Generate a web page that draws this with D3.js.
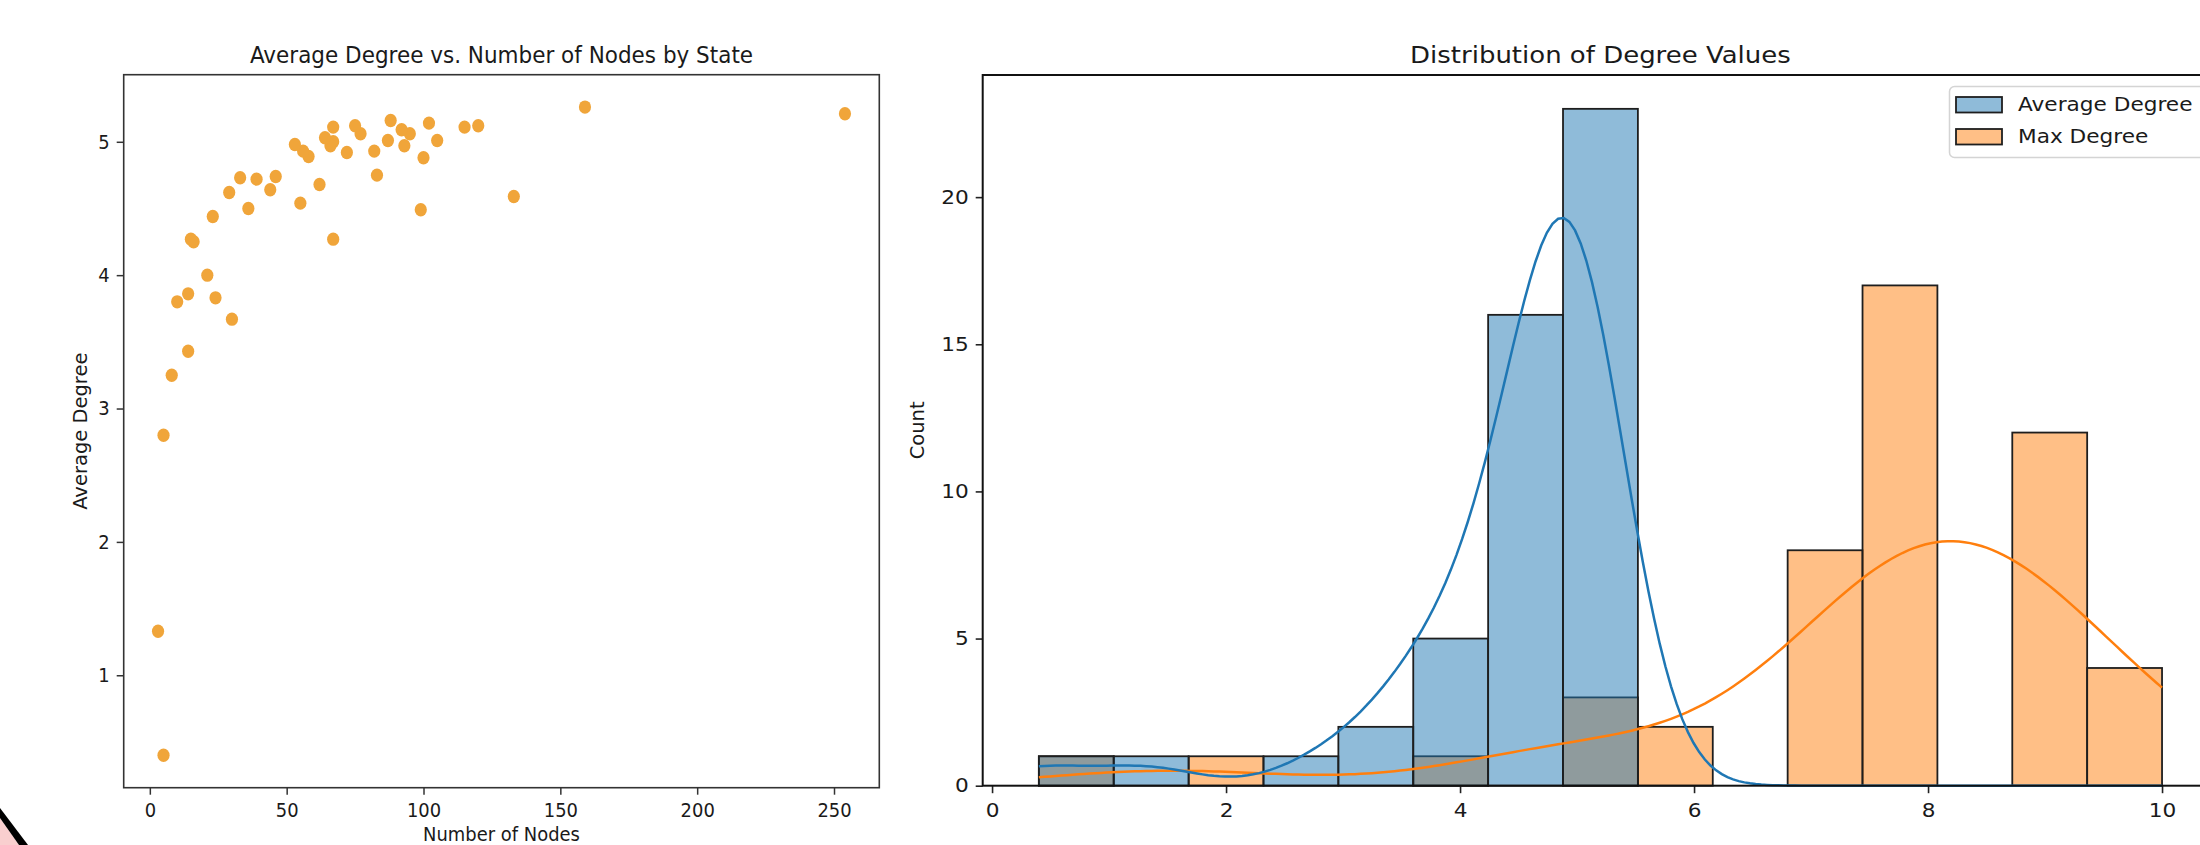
<!DOCTYPE html>
<html>
<head>
<meta charset="utf-8">
<script src="https://cdn.jsdelivr.net/npm/d3@7"></script>
<style>
  html, body { margin: 0; padding: 0; background: #ffffff; }
  svg { display: block; font-family: "DejaVu Sans", sans-serif; }
</style>
</head>
<body>
<svg id="chart" width="2200" height="845"></svg>
<script>
// ---------------- DATA ----------------
// Left: scatter of states (number of nodes vs average degree)
const nodeCounts = [254,159,133,120,115,105,102,100,99,95,93,92,88,87,83,82,77,75,72,67,67,67,66,64,62,58,56,55,53,46,44,39,36,33,30,29,24,23,21,16,15,14,14,10,8,5,3,5];
const avgDegrees = [5.21,5.26,4.59,5.12,5.11,5.01,5.14,4.88,4.49,5.06,4.97,5.09,5.16,5.01,4.75,4.93,5.06,5.12,4.92,5.11,4.27,5.00,4.97,5.03,4.68,4.89,4.93,4.54,4.98,4.74,4.64,4.72,4.50,4.73,3.67,4.62,3.83,4.44,4.00,4.25,4.27,3.86,3.43,3.80,3.25,2.80,1.33,0.40];
const scatterXTicks = [0, 50, 100, 150, 200, 250];
const scatterYTicks = [1, 2, 3, 4, 5];

// Right: histogram of degree values (common bins)
const binEdges = [0.4,1.04,1.68,2.32,2.96,3.6,4.24,4.88,5.52,6.16,6.8,7.44,8.08,8.72,9.36,10];
const avgDegreeCounts = [1,1,0,1,2,5,16,23,0,0,0,0,0,0,0];
const maxDegreeCounts = [1,0,1,0,0,1,0,3,2,0,8,17,0,12,4];
// Max degree observations (value and how many states have it)
const maxDegreeValues = [1,2,4,5,6,7,8,9,10];
const maxDegreeFreq   = [1,1,1,3,2,8,17,12,4];
const histXTicks = [0, 2, 4, 6, 8, 10];
const histYTicks = [0, 5, 10, 15, 20];
const seriesNames = ["Average Degree", "Max Degree"];

// ---------------- STYLE ----------------
const dotColor = "#f0a53a";
const blueLine = "#1f77b4", orangeLine = "#ff7f0e";
const blueFill = "rgba(31,119,180,0.5)", orangeFill = "rgba(255,127,14,0.5)";
const textColor = "#1a1a1a";
const baseFont = 19.5, titleFont = 23.4;
const leftSX = 0.92, rightSX = 1.11;

const svg = d3.select("#chart");

function squeeze(sel, sx) {
  sel.each(function () {
    const t = d3.select(this);
    const x = +t.attr("x") || 0, y = +t.attr("y") || 0;
    t.attr("transform", `translate(${x},${y}) scale(${sx},1) translate(${-x},${-y})`);
  });
}
function pad(ext, f) { const r = ext[1] - ext[0]; return [ext[0] - f * r, ext[1] + f * r]; }

// ================= LEFT: SCATTER =================
const L = { x0: 123.7, x1: 879.3, y0: 74.7, y1: 787.7 };
const xL = d3.scaleLinear().domain(pad(d3.extent(nodeCounts), 0.05)).range([L.x0, L.x1]);
const yL = d3.scaleLinear().domain(pad(d3.extent(avgDegrees), 0.05)).range([L.y1, L.y0]);

const gL = svg.append("g");
gL.selectAll("ellipse.dot").data(nodeCounts.map((n, i) => [n, avgDegrees[i]]))
  .join("ellipse").attr("class", "dot")
  .attr("cx", d => xL(d[0])).attr("cy", d => yL(d[1]))
  .attr("rx", 6.1).attr("ry", 6.7).attr("fill", dotColor);

const axLB = gL.append("g").attr("transform", `translate(0,${L.y1})`)
  .call(d3.axisBottom(xL).tickValues(scatterXTicks).tickSize(7).tickPadding(8.5).tickFormat(d3.format("d")));
const axLL = gL.append("g").attr("transform", `translate(${L.x0},0)`)
  .call(d3.axisLeft(yL).tickValues(scatterYTicks).tickSize(7).tickPadding(7).tickFormat(d3.format("d")));
[axLB, axLL].forEach(a => {
  a.select(".domain").remove();
  a.selectAll("line").attr("stroke", "#333").attr("stroke-width", 1.5);
  a.selectAll("text").attr("font-size", baseFont).attr("fill", textColor).attr("font-family", "DejaVu Sans");
  squeeze(a.selectAll("text"), leftSX);
});
gL.append("rect").attr("x", L.x0).attr("y", L.y0).attr("width", L.x1 - L.x0).attr("height", L.y1 - L.y0)
  .attr("fill", "none").attr("stroke", "#333").attr("stroke-width", 1.6);

const tL = gL.append("text").attr("x", (L.x0 + L.x1) / 2).attr("y", 63.5).attr("text-anchor", "middle")
  .attr("font-size", titleFont).attr("fill", textColor).text("Average Degree vs. Number of Nodes by State");
squeeze(tL, leftSX);
const xlL = gL.append("text").attr("x", (L.x0 + L.x1) / 2).attr("y", 841).attr("text-anchor", "middle")
  .attr("font-size", baseFont).attr("fill", textColor).text("Number of Nodes");
squeeze(xlL, leftSX);
gL.append("text").attr("transform", `translate(87,${(L.y0 + L.y1) / 2}) rotate(-90)`).attr("text-anchor", "middle")
  .attr("font-size", baseFont).attr("fill", textColor).text("Average Degree");

// decorative corner mark seen in the reference
svg.append("path").attr("d", "M0,818 L0,845 L19,845 Z").attr("fill", "#f9cfcf");
svg.append("path").attr("d", "M0,808 L0,818 L19,845 L28,845 Z").attr("fill", "#000");

// ================= RIGHT: HISTOGRAM =================
const R = { x0: 982.7, x1: 2218.2, y0: 75, y1: 785.7 };
const xR = d3.scaleLinear().domain(pad(d3.extent(binEdges), 0.05)).range([R.x0, R.x1]);
const yR = d3.scaleLinear().domain([0, d3.max(avgDegreeCounts.concat(maxDegreeCounts)) * 1.05]).range([R.y1, R.y0]);

const gR = svg.append("g");
function drawBars(counts, fill) {
  gR.append("g").selectAll("rect").data(counts.map((c, i) => ({ c, a: binEdges[i], b: binEdges[i + 1] })).filter(d => d.c > 0))
    .join("rect")
    .attr("x", d => xR(d.a)).attr("width", d => xR(d.b) - xR(d.a))
    .attr("y", d => yR(d.c)).attr("height", d => yR(0) - yR(d.c))
    .attr("fill", fill).attr("stroke", "#1e1e1e").attr("stroke-width", 1.8);
}
drawBars(maxDegreeCounts, orangeFill);
drawBars(avgDegreeCounts, blueFill);

// Gaussian KDE (Scott bandwidth) evaluated on the bin range, scaled to the histogram's counts
function kdeCurve(values, total) {
  const n = values.length;
  const sd = d3.deviation(values);
  const bw = sd * Math.pow(n, -0.2);
  const binW = binEdges[1] - binEdges[0];
  const lo = binEdges[0], hi = binEdges[binEdges.length - 1];
  const pts = [];
  for (let k = 0; k < 200; k++) {
    const x = lo + (hi - lo) * k / 199;
    let s = 0;
    for (const v of values) { const z = (x - v) / bw; s += Math.exp(-0.5 * z * z); }
    const dens = s / (n * bw * Math.sqrt(2 * Math.PI));
    pts.push([x, dens * total * binW]);
  }
  return pts;
}
const maxDegreeObs = maxDegreeValues.flatMap((v, i) => d3.range(maxDegreeFreq[i]).map(() => v));
const line = d3.line().x(d => xR(d[0])).y(d => yR(d[1])).curve(d3.curveLinear);
gR.append("path").attr("d", line(kdeCurve(maxDegreeObs, d3.sum(maxDegreeCounts))))
  .attr("fill", "none").attr("stroke", orangeLine).attr("stroke-width", 2.5);
gR.append("path").attr("d", line(kdeCurve(avgDegrees, d3.sum(avgDegreeCounts))))
  .attr("fill", "none").attr("stroke", blueLine).attr("stroke-width", 2.5);

const axRB = gR.append("g").attr("transform", `translate(0,${R.y1})`)
  .call(d3.axisBottom(xR).tickValues(histXTicks).tickSize(7.5).tickPadding(10).tickFormat(d3.format("d")));
const axRL = gR.append("g").attr("transform", `translate(${R.x0},0)`)
  .call(d3.axisLeft(yR).tickValues(histYTicks).tickSize(7).tickPadding(7).tickFormat(d3.format("d")));
[axRB, axRL].forEach(a => {
  a.select(".domain").remove();
  a.selectAll("line").attr("stroke", "#222").attr("stroke-width", 1.6);
  a.selectAll("text").attr("font-size", baseFont).attr("fill", textColor).attr("font-family", "DejaVu Sans");
  squeeze(a.selectAll("text"), rightSX);
});
gR.append("rect").attr("x", R.x0).attr("y", R.y0).attr("width", R.x1 - R.x0).attr("height", R.y1 - R.y0)
  .attr("fill", "none").attr("stroke", "#111").attr("stroke-width", 2);

const tR = gR.append("text").attr("x", (R.x0 + R.x1) / 2).attr("y", 63).attr("text-anchor", "middle")
  .attr("font-size", titleFont).attr("fill", textColor).text("Distribution of Degree Values");
squeeze(tR, rightSX);
gR.append("text").attr("transform", `translate(924,${(R.y0 + R.y1) / 2}) rotate(-90)`).attr("text-anchor", "middle")
  .attr("font-size", baseFont).attr("fill", textColor).text("Count");

// legend
const lg = gR.append("g");
lg.append("rect").attr("x", 1949.5).attr("y", 86.5).attr("width", 290).attr("height", 71).attr("rx", 5)
  .attr("fill", "rgba(255,255,255,0.85)").attr("stroke", "#d4d4d4").attr("stroke-width", 1.5);
[blueFill, orangeFill].forEach((f, i) => {
  const y = 97 + i * 32;
  lg.append("rect").attr("x", 1956).attr("y", y).attr("width", 46).attr("height", 15.5)
    .attr("fill", f).attr("stroke", "#1e1e1e").attr("stroke-width", 1.8);
  const t = lg.append("text").attr("x", 2018).attr("y", y + 14).attr("font-size", baseFont)
    .attr("fill", textColor).text(seriesNames[i]);
  squeeze(t, rightSX);
});
</script>
</body>
</html>
